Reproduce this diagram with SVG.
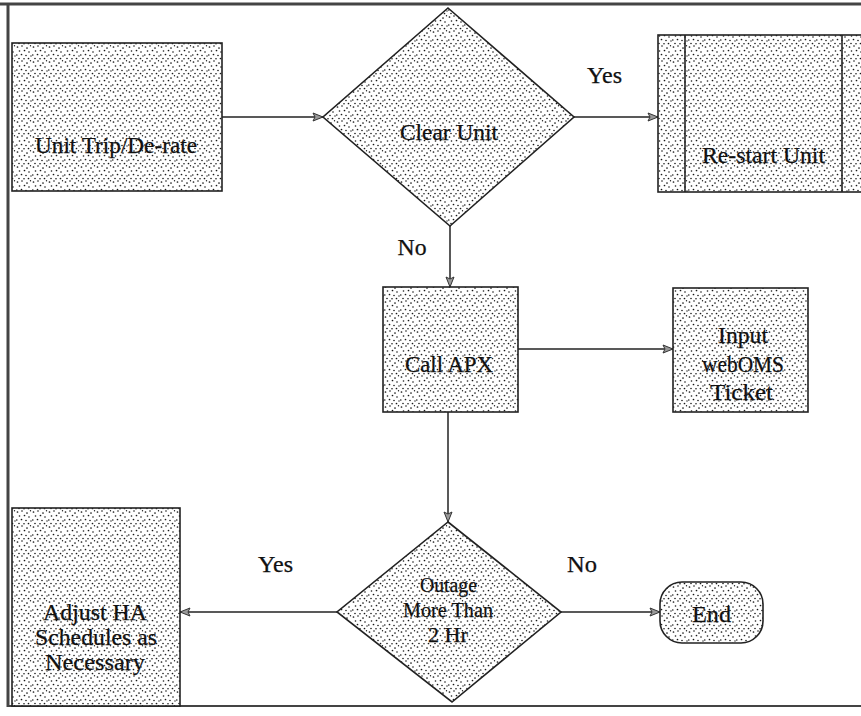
<svg xmlns="http://www.w3.org/2000/svg" width="861" height="716" viewBox="0 0 861 716">
<defs>
<pattern id="dots" width="16" height="15" patternUnits="userSpaceOnUse">
<rect width="16" height="15" fill="#fff"/>
<g fill="#1a1a1a">
<circle cx="1.5" cy="2" r="0.85"/><circle cx="6" cy="1" r="0.8"/><circle cx="11" cy="3" r="0.85"/><circle cx="14.5" cy="0.8" r="0.7"/>
<circle cx="3.5" cy="6" r="0.8"/><circle cx="8.5" cy="5.5" r="0.85"/><circle cx="13" cy="7" r="0.8"/>
<circle cx="0.8" cy="10" r="0.8"/><circle cx="5.5" cy="9.5" r="0.85"/><circle cx="10" cy="10.5" r="0.8"/><circle cx="15" cy="11" r="0.7"/>
<circle cx="3" cy="13.5" r="0.8"/><circle cx="8" cy="13.8" r="0.8"/><circle cx="12.5" cy="13.5" r="0.85"/>
</g>
</pattern>
<marker id="arr" markerWidth="12" markerHeight="10" refX="11" refY="5" orient="auto" markerUnits="userSpaceOnUse">
<path d="M1,1 L11,5 L1,9 L3,5 Z" fill="#999" stroke="#333" stroke-width="1"/>
</marker>
</defs>
<style>
.n{fill:url(#dots);stroke:#222;stroke-width:1.6}
.t{font-family:"Liberation Serif","Times New Roman",serif;font-size:24px;fill:#111;text-anchor:middle;stroke:#111;stroke-width:0.25}
.l{font-size:23px}
.c{stroke:#222;stroke-width:1.5;fill:none;marker-end:url(#arr)}
.f{stroke:#444;stroke-width:3;fill:none}
</style>
<rect width="861" height="716" fill="#fff"/>
<g id="frame">
<line class="f" x1="0" y1="4" x2="861" y2="4"/>
<line class="f" x1="8" y1="3" x2="8" y2="707"/>
<line x1="8" y1="706" x2="861" y2="706" stroke="#444" stroke-width="2"/>
</g>
<g id="connectors">
<line class="c" x1="222" y1="117" x2="323" y2="117"/>
<line class="c" x1="574" y1="117" x2="658" y2="117"/>
<line class="c" x1="450" y1="226" x2="450" y2="287"/>
<line class="c" x1="518" y1="349" x2="673" y2="349"/>
<line class="c" x1="448" y1="412" x2="448" y2="522"/>
<line class="c" x1="337" y1="612" x2="180" y2="612"/>
<line class="c" x1="561" y1="612" x2="660" y2="612"/>
</g>
<g id="labels">
<text class="t l" x="604.5" y="83" textLength="35" lengthAdjust="spacingAndGlyphs">Yes</text>
<text class="t l" x="412" y="255" textLength="29" lengthAdjust="spacingAndGlyphs">No</text>
<text class="t l" x="275.5" y="572" textLength="35" lengthAdjust="spacingAndGlyphs">Yes</text>
<text class="t l" x="582" y="572" textLength="30" lengthAdjust="spacingAndGlyphs">No</text>
</g>
<g id="unit-trip">
<rect class="n" x="12" y="43" width="210" height="148"/>
<text class="t" x="116" y="153" textLength="162" lengthAdjust="spacingAndGlyphs">Unit Trip/De-rate</text>
</g>
<g id="clear-unit">
<polygon class="n" points="448,8 574,117 450,226 323,117"/>
<text class="t" x="449" y="140" textLength="98" lengthAdjust="spacingAndGlyphs">Clear Unit</text>
</g>
<g id="restart-unit">
<rect class="n" x="658" y="35" width="215" height="157"/>
<line x1="685" y1="35" x2="685" y2="192" stroke="#222" stroke-width="1.6"/>
<line x1="842" y1="35" x2="842" y2="192" stroke="#222" stroke-width="1.6"/>
<text class="t" x="763.5" y="163" textLength="123" lengthAdjust="spacingAndGlyphs">Re-start Unit</text>
</g>
<g id="call-apx">
<rect class="n" x="383" y="287" width="135" height="125"/>
<text class="t" x="449" y="372" textLength="88" lengthAdjust="spacingAndGlyphs">Call APX</text>
</g>
<g id="input-ticket">
<rect class="n" x="673" y="288" width="135" height="124"/>
<text class="t" x="743" y="343" textLength="50" lengthAdjust="spacingAndGlyphs">Input</text>
<text class="t" x="743" y="372" textLength="82" lengthAdjust="spacingAndGlyphs">webOMS</text>
<text class="t" x="741.5" y="400" textLength="63" lengthAdjust="spacingAndGlyphs">Ticket</text>
</g>
<g id="outage">
<polygon class="n" points="448,522 561,612 452,702 337,612"/>
<text class="t" x="448.5" y="592" style="font-size:22px" textLength="57" lengthAdjust="spacingAndGlyphs">Outage</text>
<text class="t" x="448" y="617" style="font-size:22px" textLength="90" lengthAdjust="spacingAndGlyphs">More Than</text>
<text class="t" x="448" y="642" style="font-size:22px" textLength="40" lengthAdjust="spacingAndGlyphs">2 Hr</text>
</g>
<g id="end">
<rect class="n" x="660" y="582" width="103" height="61" rx="22" ry="22"/>
<text class="t" x="711.5" y="622" textLength="39" lengthAdjust="spacingAndGlyphs">End</text>
</g>
<g id="adjust-ha">
<rect class="n" x="12" y="508" width="168" height="198"/>
<text class="t" x="95" y="620" textLength="104" lengthAdjust="spacingAndGlyphs">Adjust HA</text>
<text class="t" x="96" y="645" textLength="122" lengthAdjust="spacingAndGlyphs">Schedules as</text>
<text class="t" x="95" y="670" textLength="100" lengthAdjust="spacingAndGlyphs">Necessary</text>
</g>
</svg>
